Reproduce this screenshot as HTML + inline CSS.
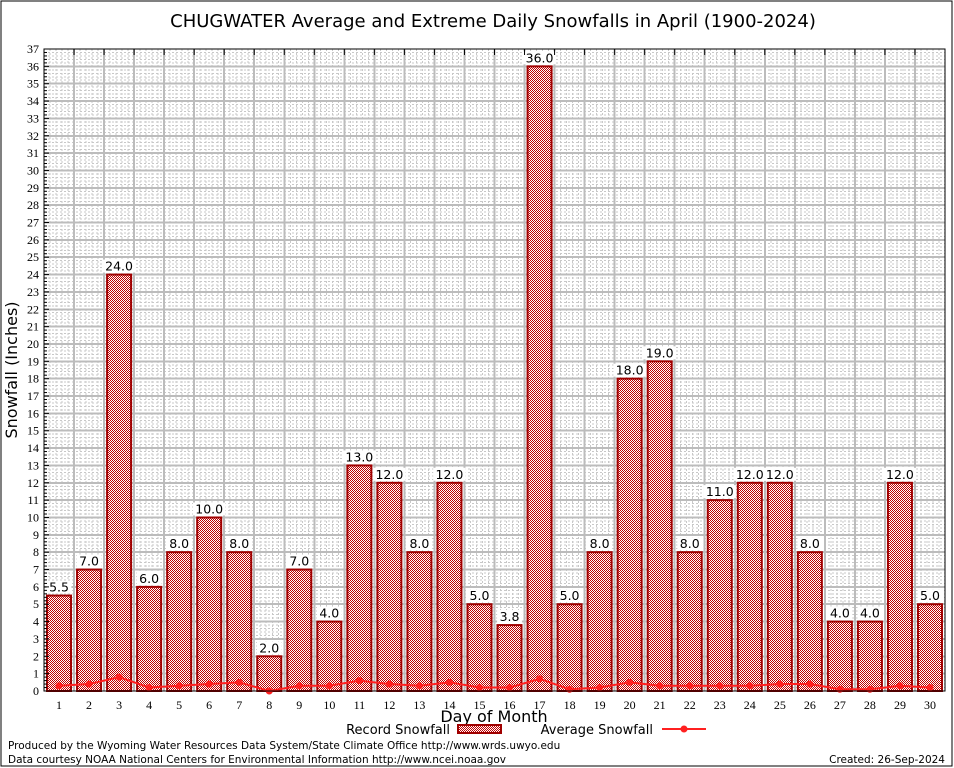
<!DOCTYPE html>
<html><head><meta charset="utf-8"><style>
html,body{margin:0;padding:0;background:#fff}
svg{display:block}
text{font-family:"DejaVu Sans","Liberation Sans",sans-serif}
.serif{font-family:"Liberation Serif","DejaVu Serif",serif}
</style></head><body>
<svg id="chart" width="954" height="768" viewBox="0 0 954 768" xmlns="http://www.w3.org/2000/svg">
<defs>
<pattern id="hatch" width="2" height="2" patternUnits="userSpaceOnUse">
<rect width="2" height="2" fill="#fff" shape-rendering="crispEdges"/>
<rect width="1" height="1" fill="#c00000" shape-rendering="crispEdges"/>
<rect x="1" y="1" width="1" height="1" fill="#c00000" shape-rendering="crispEdges"/>
</pattern>
</defs>
<rect x="1" y="1" width="951" height="765" fill="#fff" stroke="#000" stroke-width="1"/>
<text x="493" y="27" text-anchor="middle" font-size="18">CHUGWATER Average and Extreme Daily Snowfalls in April (1900-2024)</text>
<g id="grid" shape-rendering="crispEdges"></g>
<g id="bars"></g>
<g id="avg"></g>
<g id="axes"></g>
<text transform="translate(17,370) rotate(-90)" text-anchor="middle" font-size="16">Snowfall (Inches)</text>
<text x="494" y="722" text-anchor="middle" font-size="16">Day of Month</text>
<g>
<text x="450" y="734" text-anchor="end" font-size="13">Record Snowfall</text>
<rect x="458" y="725" width="43" height="8" fill="url(#hatch)" stroke="#a00000" stroke-width="2"/>
<text x="653" y="734" text-anchor="end" font-size="13">Average Snowfall</text>
<line x1="662" y1="729" x2="706" y2="729" stroke="#ff2020" stroke-width="2"/>
<circle cx="684" cy="729" r="3.5" fill="#ff2020"/>
</g>
<text x="8" y="749" font-size="10.5">Produced by the Wyoming Water Resources Data System/State Climate Office http://www.wrds.uwyo.edu</text>
<text x="8" y="763" font-size="10.5">Data courtesy NOAA National Centers for Environmental Information http://www.ncei.noaa.gov</text>
<text x="945" y="763" text-anchor="end" font-size="10.5">Created: 26-Sep-2024</text>
</svg>
<script>
const days = [1,2,3,4,5,6,7,8,9,10,11,12,13,14,15,16,17,18,19,20,21,22,23,24,25,26,27,28,29,30];
const recordSnow = [5.5,7.0,24.0,6.0,8.0,10.0,8.0,2.0,7.0,4.0,13.0,12.0,8.0,12.0,5.0,3.8,36.0,5.0,8.0,18.0,19.0,8.0,11.0,12.0,12.0,8.0,4.0,4.0,12.0,5.0];
const avgSnow = [0.3,0.4,0.8,0.2,0.3,0.4,0.5,0.0,0.3,0.3,0.6,0.4,0.3,0.5,0.2,0.2,0.7,0.1,0.2,0.5,0.3,0.3,0.3,0.3,0.4,0.4,0.1,0.1,0.3,0.2];
const yMax = 37;

const NS = "http://www.w3.org/2000/svg";
const L = 44, R = 945, T = 49, B = 691;
function xs(d){ return L + (d - 0.5) * (R - L) / 30; }
function ys(v){ return B - v * (B - T) / yMax; }
function mk(tag, attrs, parent){
  const e = document.createElementNS(NS, tag);
  for (const k in attrs) e.setAttribute(k, attrs[k]);
  parent.appendChild(e); return e;
}
const grid = document.getElementById('grid');
const bars = document.getElementById('bars');
const avg = document.getElementById('avg');
const axes = document.getElementById('axes');

for (let v = 0; v < yMax; v++) {
  for (let k = 1; k < 5; k++) {
    const y = ys(v + k / 5);
    const ln = mk('line', {x1:L, x2:R, y1:y, y2:y, stroke:'#c8c8c8', 'stroke-width':1, 'stroke-dasharray':'2,2'}, grid);
    
    
  }
}
for (let d = 0; d < 30; d++) {
  for (let k = 1; k < 5; k++) {
    const x = xs(d + 0.5 + k / 5);
    const ln = mk('line', {x1:x, x2:x, y1:T, y2:B, stroke:'#c8c8c8', 'stroke-width':1, 'stroke-dasharray':'2,2'}, grid);
    
    
  }
}
for (let v = 1; v < yMax; v++) {
  const y = ys(v);
  const ln = mk('line', {x1:L, x2:R, y1:y, y2:y, stroke:'#bcbcbc', 'stroke-width':2}, grid);
  
  
}
for (let d = 1; d < 30; d++) {
  const x = xs(d + 0.5);
  const ln = mk('line', {x1:x, x2:x, y1:T, y2:B, stroke:'#bcbcbc', 'stroke-width':2}, grid);
  
  
}

days.forEach((d, i) => {
  const v = recordSnow[i];
  const cx = xs(d), w = 24;
  const r = mk('rect', {x:cx - w/2, y:ys(v), width:w, height:B - ys(v), fill:'url(#hatch)', stroke:'#a00000', 'stroke-width':2}, bars);
  
  
  const label = v.toFixed(1);
  const bw = label.length * 7.6 + 2;
  const bg = mk('rect', {x:cx - bw/2, y:ys(v) - 15, width:bw, height:13, fill:'#fff'}, bars);
  
  
  const t = mk('text', {x:cx, y:ys(v) - 4, 'text-anchor':'middle', 'font-size':12.5}, bars);
  t.textContent = label;
  
  
});

const pts = days.map((d, i) => xs(d) + ',' + ys(avgSnow[i])).join(' ');
const pl = mk('polyline', {points:pts, fill:'none', stroke:'#ff2020', 'stroke-width':2}, avg);


days.forEach((d, i) => {
  const c = mk('circle', {cx:xs(d), cy:ys(avgSnow[i]), r:3.5, fill:'#ff2020'}, avg);
  
  
});

const fr = mk('rect', {x:L, y:T, width:R - L, height:B - T, fill:'none', stroke:'#000', 'stroke-width':1}, axes);


for (let v = 0; v <= yMax; v++) {
  const y = ys(v);
  const tk = mk('line', {x1:L, x2:L + 5, y1:y, y2:y, stroke:'#000', 'stroke-width':1}, axes);
  
  
  if (v < yMax) for (let k = 1; k < 5; k++) {
    const ym = ys(v + k / 5);
    const mt = mk('line', {x1:L, x2:L + 3, y1:ym, y2:ym, stroke:'#000', 'stroke-width':1}, axes);
    
    
  }
  const t = mk('text', {x:L - 5, y:y + 4, 'text-anchor':'end', 'font-size':12, class:'serif'}, axes);
  t.textContent = v;
  
  
}
days.forEach(d => {
  const t = mk('text', {x:xs(d), y:B + 18, 'text-anchor':'middle', 'font-size':12, class:'serif'}, axes);
  t.textContent = d;
  
  
});
for (let d = 0; d <= 30; d++) {
  const x = xs(d + 0.5);
  const tk = mk('line', {x1:x, x2:x, y1:T, y2:T + 6, stroke:'#000', 'stroke-width':1}, axes);
  
  
}
</script>
</body></html>
